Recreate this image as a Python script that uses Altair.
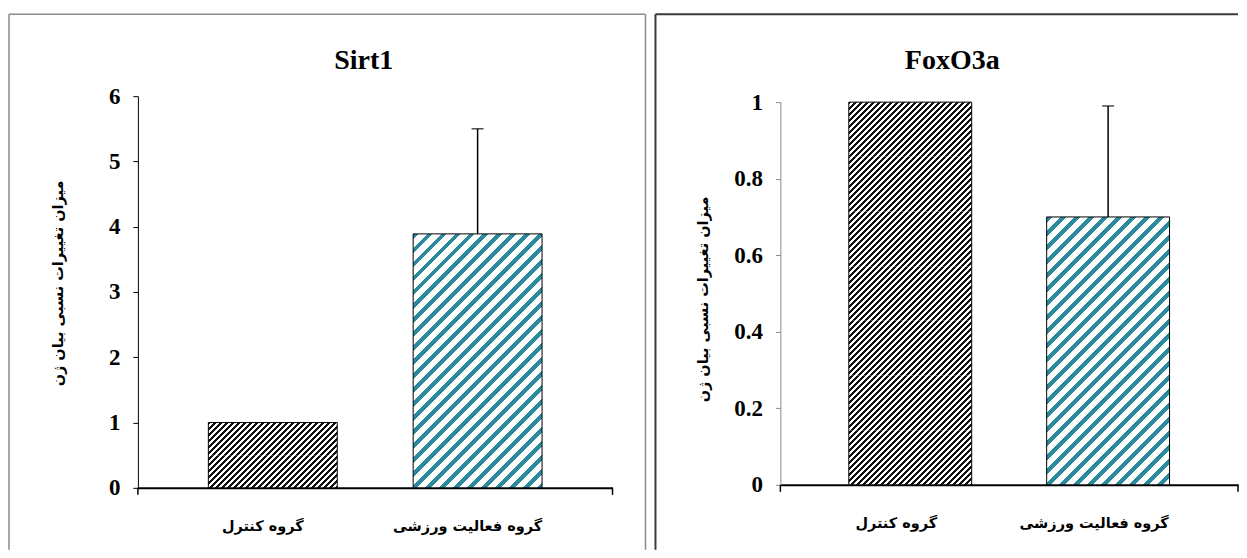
import math
import altair as alt
import pandas as pd

# ---- data ----
groups = ["گروه کنترل", "گروه فعالیت ورزشی"]
sirt1_mean = [1.0, 3.89]
sirt1_err = [0.0, 1.61]
foxo3a_mean = [1.0, 0.70]
foxo3a_err = [0.0, 0.29]
sirt1_ticks = [0, 1, 2, 3, 4, 5, 6]
foxo3a_ticks = [0, 0.2, 0.4, 0.6, 0.8, 1]
y_title = "میزان تغییرات نسبی بیان ژن"
bar_colors = ["#111111", "#2B8B9D"]
hatch_period = [6.0, 14.0]
hatch_frac = [0.5, 0.42]

SERIF = "Liberation Serif"
ARABIC = "DejaVu Sans"


def hatch(color, w, h, period, frac, phase):
    """Diagonal '/' stripes as a hard-stop linear gradient (bbox units)."""
    L = w + h
    on = frac * period

    def is_on(s):
        return ((s + phase) % period) < on

    trans = []
    # transition positions in (0, L)
    k0 = math.floor((0 + phase) / period) - 1
    k = k0
    while True:
        for edge in (0.0, on):
            p = k * period + edge - phase
            if 0 < p < L:
                trans.append(p)
        if k * period - phase > L:
            break
        k += 1
    trans.sort()
    cur = color if is_on(0.0001) else "white"
    stops = [alt.GradientStop(offset=0, color=cur)]
    for p in trans:
        nxt = "white" if cur == color else color
        o = round(p / L, 6)
        stops.append(alt.GradientStop(offset=o, color=cur))
        stops.append(alt.GradientStop(offset=o, color=nxt))
        cur = nxt
    stops.append(alt.GradientStop(offset=1, color=cur))
    kk = (w + h) / (w * w + h * h)
    return alt.LinearGradient(gradient="linear", stops=stops,
                              x1=0, y1=0, x2=w * kk, y2=h * kk)


def panel(title, mean, err, ticks, ymax, W, y0, y1, bw, pi, po, title_x,
          ytx, yty, ycolor, fl, fr, fcolor, fwidth, lab_off):
    df = pd.DataFrame({"group": groups, "mean": mean, "err": err})
    df["upper"] = df["mean"] + df["err"]
    ppu = (y0 - y1) / ymax

    xs = alt.Scale(domain=groups, paddingInner=pi, paddingOuter=po, align=0.5)
    ys = alt.Scale(domain=[0, ymax], range=[y0, y1], nice=False, zero=True)

    x_axis = alt.Axis(title=None, labelAngle=0, ticks=False, domainColor="black",
                      domainWidth=2, labelFont=ARABIC, labelFontSize=14.5,
                      labelFontWeight="bold", labelPadding=32, labelColor="black",
                      labelOffset=lab_off, grid=False)
    y_axis = alt.Axis(values=ticks, format="~g", grid=False, title=y_title,
                      titleAngle=270, titleX=ytx, titleY=yty, titleAlign="center",
                      titleBaseline="middle", titleFont=ARABIC, titleFontSize=14.5,
                      titleFontWeight="bold", titleColor="black",
                      labelFont=SERIF, labelFontSize=23, labelFontWeight="bold",
                      labelColor="black", labelPadding=13, tickSize=5,
                      tickColor=ycolor, domainColor=ycolor, domainWidth=1)

    enc_x = alt.X("group:N", sort=groups, scale=xs, axis=x_axis)
    enc_y = alt.Y("mean:Q", scale=ys, axis=y_axis)
    base = alt.Chart(df)
    layers = []
    for i, g in enumerate(groups):
        w = bw
        h = mean[i] * ppu
        period = hatch_period[i]
        max_seg = max(20.0, 30 * period - w)
        K = max(1, math.ceil(h / max_seg))
        sel = base.transform_filter(alt.FieldEqualPredicate(field="group", equal=g))
        for j in range(K):
            seg_top_px = h * (K - 1 - j) / K  # distance from bar top
            seg_h = h / K
            layers.append(
                sel.transform_calculate(
                    lo=f"datum.mean * {j} / {K}",
                    hi=f"datum.mean * {j + 1} / {K}",
                ).mark_bar(
                    fill=hatch(bar_colors[i], w, seg_h, period, hatch_frac[i],
                               seg_top_px),
                    strokeWidth=0, size=bw,
                ).encode(x=enc_x, y=alt.Y("lo:Q", scale=ys, axis=y_axis), y2="hi:Q")
            )
        # outline of the bar
        layers.append(
            sel.mark_bar(fillOpacity=0, fill="white", stroke="black",
                         strokeWidth=1, size=bw).encode(x=enc_x, y=enc_y)
        )
    eb = base.transform_filter(alt.datum.err > 0)
    layers.append(
        eb.mark_rule(color="black", strokeWidth=1.5).encode(
            x=enc_x, y=enc_y, y2="upper:Q",
        )
    )
    layers.append(
        eb.mark_tick(color="black", thickness=1.5, size=12).encode(
            x=enc_x, y=alt.Y("upper:Q", scale=ys, axis=y_axis),
        )
    )
    one = alt.Chart(pd.DataFrame({"k": [0]}))
    # x-axis end ticks
    for xv in (0, W):
        layers.append(one.mark_rule(color="black", strokeWidth=1.5).encode(
            x=alt.value(xv), y=alt.value(y0), y2=alt.value(y0 + 7)))
    # panel title
    layers.append(one.mark_text(font=SERIF, fontSize=28, fontWeight="bold",
                                color="black", align="center",
                                baseline="alphabetic").encode(
        x=alt.value(title_x), y=alt.value(-27), text=alt.value(title)))
    # panel frame
    top = -82
    bottom = 454
    right_edge = fr if fr is not None else W
    layers.append(one.mark_rule(color=fcolor, strokeWidth=fwidth).encode(
        x=alt.value(fl), x2=alt.value(right_edge), y=alt.value(top)))
    layers.append(one.mark_rule(color=fcolor, strokeWidth=fwidth).encode(
        x=alt.value(fl), y=alt.value(top), y2=alt.value(bottom)))
    if fr is not None:
        layers.append(one.mark_rule(color=fcolor, strokeWidth=fwidth).encode(
            x=alt.value(fr), y=alt.value(top), y2=alt.value(bottom)))

    return alt.layer(*layers).properties(width=W, height=y0)


left = panel("Sirt1", sirt1_mean, sirt1_err, sirt1_ticks, 6, 475, 392, 0,
             129, 0.3707, 0.344, 226, -79, 187, "black", -129, 508, "#8a8a8a", 1.5,
             -10)
right = panel("FoxO3a", foxo3a_mean, foxo3a_err, foxo3a_ticks, 1, 458, 389, 6,
              123, 0.379, 0.346, 172, -77, 203, "#8c8c8c", -125, None, "#3a3a3a", 2,
              -14)

chart = alt.hconcat(left, right, spacing=168, bounds="flush").properties(
    padding={"left": 0, "top": 5, "right": 0, "bottom": 0}
).configure(background="white").configure_view(stroke=None)

chart.save("out.html", embed_options={"renderer": "svg", "actions": False})
